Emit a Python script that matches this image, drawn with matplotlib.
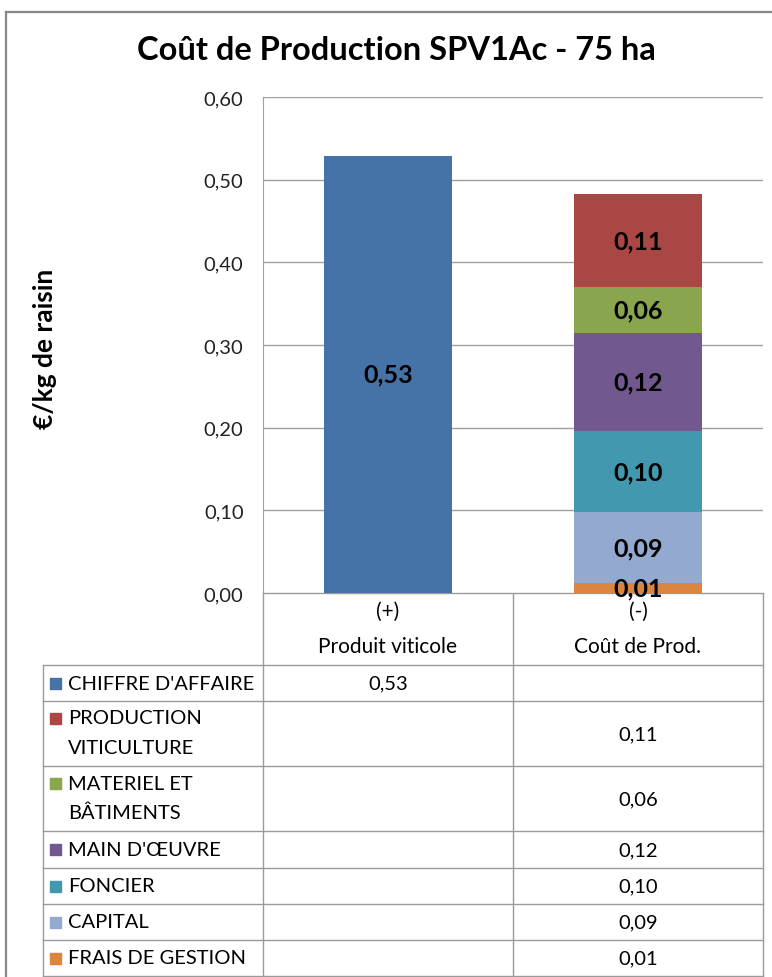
import matplotlib
matplotlib.use("Agg")
import matplotlib.pyplot as plt
from matplotlib.patches import Rectangle

plt.rcParams['font.family'] = ['Lato', 'DejaVu Sans']

# =========================
# Data
# =========================
categories = ["(+)\nProduit viticole", "(-)\nCoût de Prod."]
ca_values = [0.529, 0.0]

# stacked cost components, bottom to top
cost_names = ["FRAIS DE GESTION", "CAPITAL", "FONCIER", "MAIN D'ŒUVRE",
              "MATERIEL ET\nBÂTIMENTS", "PRODUCTION\nVITICULTURE"]
cost_values = [0.0121, 0.0856, 0.0984, 0.1186, 0.0560, 0.1114]
cost_colors = ["#DB843D", "#93A9CF", "#4198AF", "#71588F", "#89A54E", "#AA4643"]
ca_name = "CHIFFRE D'AFFAIRE"
ca_color = "#4572A7"

yticks = [0.0, 0.1, 0.2, 0.3, 0.4, 0.5, 0.6]


def fr(v):
    return f"{v:.2f}".replace(".", ",")


# =========================
# Figure / layout (pixel based)
# =========================
W, H = 772, 978
fig = plt.figure(figsize=(W / 100, H / 100), dpi=100)

# background canvas for frame, title, table
bg = fig.add_axes([0, 0, 1, 1])
bg.set_xlim(0, W)
bg.set_ylim(H, 0)
bg.axis("off")

frame_c = "#878787"
bg.plot([6, W], [13, 13], color=frame_c, lw=1.6)
bg.plot([6, 6], [13, H], color=frame_c, lw=1.6)

bg.text(396, 50, "Coût de Production SPV1Ac - 75 ha", ha="center", va="center",
        fontsize=23.5, fontweight="bold")
bg.text(45, 349, "€/kg de raisin", rotation=90, ha="center", va="center",
        fontsize=19, fontweight="bold")

# plot area
px_l, px_r, px_t, px_b = 263, 763, 98, 594
ax = fig.add_axes([px_l / W, 1 - px_b / H, (px_r - px_l) / W, (px_b - px_t) / H])
ax.set_xlim(-0.5, 1.5)
ax.set_ylim(0, 0.6)
ax.set_yticks(yticks)
ax.set_yticklabels([fr(t) for t in yticks], fontsize=14.5, color="#222222")
ax.tick_params(axis="y", length=0, pad=14)
ax.set_xticks([])
for s in ["top", "right", "bottom"]:
    ax.spines[s].set_visible(False)
ax.spines["left"].set_color("#A0A0A0")
ax.yaxis.grid(True, color="#A0A0A0", lw=1)
ax.set_axisbelow(True)

bw = 0.512
ax.bar(0, ca_values[0], width=bw, color=ca_color)
ax.text(0, ca_values[0] / 2, fr(ca_values[0]), ha="center", va="center",
        fontsize=18, fontweight="bold")

bottom = 0.0
for v, c in zip(cost_values, cost_colors):
    ax.bar(1, v, width=bw, bottom=bottom, color=c)
    ax.text(1, bottom + v / 2, fr(v), ha="center", va="center",
            fontsize=18, fontweight="bold", zorder=5)
    bottom += v

# =========================
# Data table
# =========================
line_c = "#9A9A9A"
col_x = [43, 263, 513, 763]
head_top, head_bot = 594, 666
row_bounds = [666, 702, 767, 832, 869, 905, 941, 977]

bg.plot([263, 763], [head_top, head_top], color=line_c, lw=1)
for x in col_x[1:]:
    bg.plot([x, x], [head_top, row_bounds[-1]], color=line_c, lw=1)
bg.plot([43, 43], [head_bot, row_bounds[-1]], color=line_c, lw=1)
for y in row_bounds:
    bg.plot([43, 763], [y, y], color=line_c, lw=1)

for i, cat in enumerate(categories):
    cx = (col_x[i + 1] + col_x[i + 2]) / 2
    top, bot = cat.split("\n")
    bg.text(cx, 612, top, ha="center", va="center", fontsize=15)
    bg.text(cx, 647, bot, ha="center", va="center", fontsize=15)

rows = [(ca_name, ca_color, ca_values[0], None)]
for n, c, v in reversed(list(zip(cost_names, cost_colors, cost_values))):
    rows.append((n, c, None, v))

for i, (name, color, v1, v2) in enumerate(rows):
    y0, y1 = row_bounds[i], row_bounds[i + 1]
    ym = (y0 + y1) / 2
    lines = name.split("\n")
    if len(lines) == 1:
        ys = [ym]
    else:
        ys = [y0 + 17, y0 + 46]
    bg.add_patch(Rectangle((50, ys[0] - 5.5), 11, 11, color=color))
    for ln, yy in zip(lines, ys):
        bg.text(68, yy, ln, ha="left", va="center", fontsize=14.5)
    if v1 is not None:
        bg.text(388, ym, fr(v1), ha="center", va="center", fontsize=14.5)
    if v2 is not None:
        bg.text(638, ym, fr(v2), ha="center", va="center", fontsize=14.5)

fig.savefig("out.png", dpi=100)
